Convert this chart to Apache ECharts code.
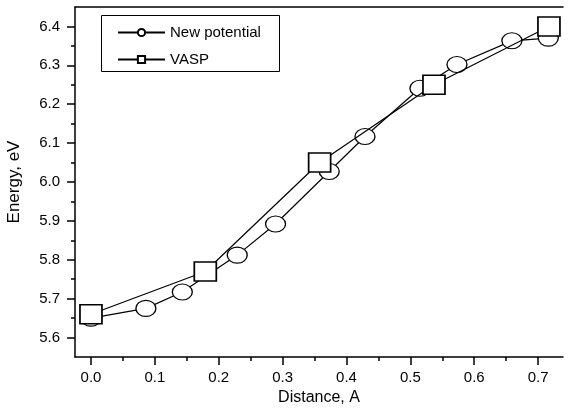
<!DOCTYPE html>
<html>
<head>
<meta charset="utf-8">
<script src="https://cdn.jsdelivr.net/npm/echarts@6/dist/echarts.min.js"></script>
<style>html,body{margin:0;padding:0;background:#fff}#c{width:569px;height:409px}</style>
</head>
<body>
<div id="c"></div>
<script>
// Data
var newPotX = [0.0, 0.086, 0.143, 0.229, 0.289, 0.373, 0.429, 0.515, 0.573, 0.659, 0.716];
var newPotY = [5.650, 5.675, 5.717, 5.812, 5.892, 6.027, 6.117, 6.241, 6.302, 6.363, 6.370];
var vaspX = [0.0, 0.179, 0.358, 0.537, 0.717];
var vaspY = [5.66, 5.77, 6.05, 6.25, 6.40];
var xMajor = [0.0, 0.1, 0.2, 0.3, 0.4, 0.5, 0.6, 0.7];
var xMinor = [0.05, 0.15, 0.25, 0.35, 0.45, 0.55, 0.65];
var yMajor = [5.6, 5.7, 5.8, 5.9, 6.0, 6.1, 6.2, 6.3, 6.4];
var yMinor = [5.65, 5.75, 5.85, 5.95, 6.05, 6.15, 6.25, 6.35];
var seriesNames = ['New potential', 'VASP'];

function pairs(xs, ys) { return xs.map(function (x, i) { return [x, ys[i]]; }); }

var FONT = 'Liberation Sans, Arial, sans-serif';
var chart = echarts.init(document.getElementById('c'), null, {renderer: 'canvas'});
var axisLineStyle = {color: '#000', width: 1.5};
var X_MIN = -0.025, X_MAX = 0.739, Y_MIN = 5.55, Y_MAX = 6.45;
chart.setOption({
  animation: false,
  backgroundColor: '#fff',
  grid: {left: 75, top: 7, width: 488, height: 350, outerBoundsMode: 'none', containLabel: false},
  graphic: [{
    type: 'rect', left: 101, top: 15, z: 5,
    shape: {width: 178, height: 56},
    style: {fill: '#fff', stroke: '#000', lineWidth: 1}
  }],
  legend: {
    left: 117, top: 25, orient: 'vertical', padding: 0, z: 10,
    itemWidth: 47, itemHeight: 9, itemGap: 12,
    textStyle: {fontSize: 15, color: '#000', fontFamily: FONT},
    data: seriesNames
  },
  xAxis: [{
    type: 'value', min: X_MIN, max: X_MAX,
    name: 'Distance, A', nameLocation: 'middle', nameGap: 33,
    nameTextStyle: {fontSize: 16, color: '#000', fontFamily: FONT},
    axisLine: {show: true, onZero: false, lineStyle: axisLineStyle},
    axisTick: {show: true, length: 8, inside: false, customValues: xMajor, lineStyle: {color: '#000', width: 1.5}},
    axisLabel: {customValues: xMajor, fontSize: 15, color: '#000', fontFamily: FONT, margin: 13,
      formatter: function (v) { return v.toFixed(1); }},
    splitLine: {show: false}
  }, {
    type: 'value', min: X_MIN, max: X_MAX, position: 'bottom',
    axisLine: {show: false, onZero: false},
    axisTick: {show: true, length: 4, inside: false, customValues: xMinor, lineStyle: {color: '#000', width: 1.5}},
    axisLabel: {show: false},
    splitLine: {show: false}
  }, {
    type: 'value', min: X_MIN, max: X_MAX, position: 'top',
    axisLine: {show: true, onZero: false, lineStyle: axisLineStyle},
    axisTick: {show: false},
    axisLabel: {show: false},
    splitLine: {show: false}
  }],
  yAxis: [{
    type: 'value', min: Y_MIN, max: Y_MAX,
    name: 'Energy, eV', nameLocation: 'middle', nameGap: 52,
    nameTextStyle: {fontSize: 17, color: '#000', fontFamily: FONT},
    axisLine: {show: true, onZero: false, lineStyle: axisLineStyle},
    axisTick: {show: true, length: 8, inside: false, customValues: yMajor, lineStyle: {color: '#000', width: 1.5}},
    axisLabel: {customValues: yMajor, fontSize: 15, color: '#000', fontFamily: FONT, margin: 15,
      formatter: function (v) { return v.toFixed(1); }},
    splitLine: {show: false}
  }, {
    type: 'value', min: Y_MIN, max: Y_MAX, position: 'left',
    axisLine: {show: false, onZero: false},
    axisTick: {show: true, length: 4, inside: false, customValues: yMinor, lineStyle: {color: '#000', width: 1.5}},
    axisLabel: {show: false},
    splitLine: {show: false}
  }],
  series: [{
    name: seriesNames[0], type: 'line', xAxisIndex: 0, yAxisIndex: 0,
    data: pairs(newPotX, newPotY),
    symbol: 'circle', symbolSize: [20, 16], showAllSymbol: true,
    lineStyle: {color: '#000', width: 1.2},
    itemStyle: {color: '#fff', borderColor: '#000', borderWidth: 1.2},
    z: 2
  }, {
    name: seriesNames[1], type: 'line', xAxisIndex: 0, yAxisIndex: 0,
    data: pairs(vaspX, vaspY),
    symbol: 'rect', symbolSize: [22, 19], showAllSymbol: true,
    lineStyle: {color: '#000', width: 1.2},
    itemStyle: {color: '#fff', borderColor: '#000', borderWidth: 1.6},
    z: 3
  }]
});
</script>
</body>
</html>
